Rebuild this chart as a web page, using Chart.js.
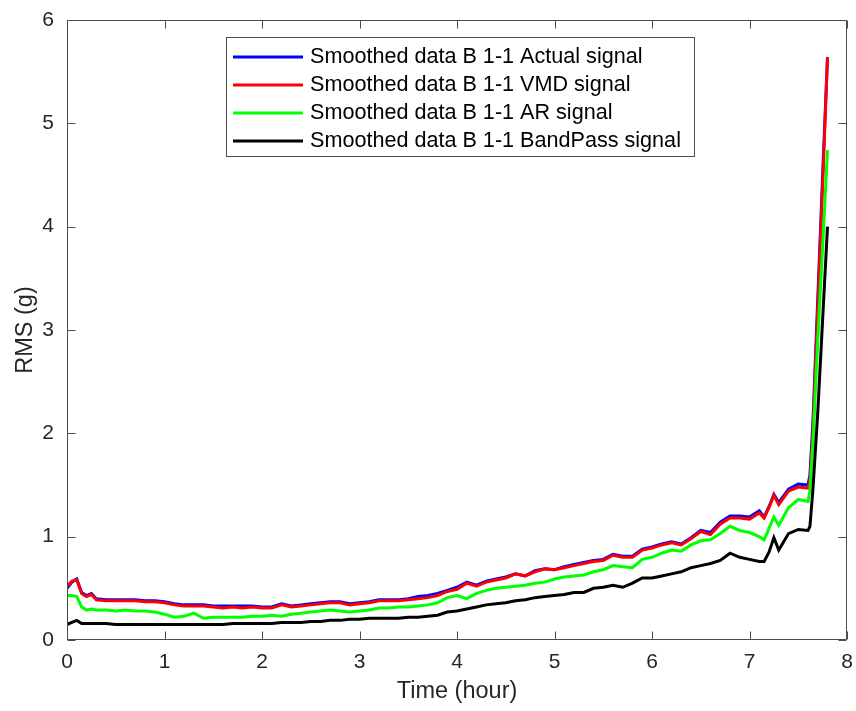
<!DOCTYPE html>
<html>
<head>
<meta charset="utf-8">
<script src="https://cdn.jsdelivr.net/npm/chart.js@4.4.1/dist/chart.umd.min.js"></script>
<style>
html,body{margin:0;padding:0;background:#ffffff;}
#wrap{width:856px;height:711px;}
</style>
</head>
<body>
<div id="wrap"><canvas id="c" width="856" height="711"></canvas></div>
<script>
// ---- data ----
const timeHours = [
  0,0.05,0.1,0.15,0.2,0.25,0.3,
  0.4,0.5,0.6,0.7,0.8,0.9,1.0,
  1.1,1.2,1.3,1.4,1.5,1.6,1.7,1.8,1.9,2.0,
  2.1,2.2,2.3,2.4,2.5,2.6,2.7,2.8,2.9,3.0,
  3.1,3.2,3.3,3.4,3.5,3.6,3.7,3.8,3.9,4.0,
  4.1,4.2,4.3,4.4,4.5,4.6,4.7,4.8,4.9,5.0,
  5.1,5.2,5.3,5.4,5.5,5.6,5.7,5.8,5.9,6.0,
  6.1,6.2,6.3,6.4,6.5,6.6,6.7,6.8,6.9,7.0,7.1,
  7.15,7.2,7.25,7.3,7.4,7.5,7.6,
  7.62,7.65,7.7,7.75,7.8
];
const actualSignal = [
  0.50,0.56,0.59,0.46,0.43,0.45,0.40,
  0.39,0.39,0.39,0.39,0.38,0.38,0.37,
  0.35,0.34,0.34,0.34,0.33,0.33,0.33,0.33,0.33,0.32,
  0.32,0.35,0.33,0.34,0.35,0.36,0.37,0.37,0.35,0.36,
  0.37,0.39,0.39,0.39,0.40,0.42,0.43,0.45,0.48,0.51,
  0.56,0.53,0.57,0.59,0.61,0.64,0.62,0.67,0.69,0.68,
  0.71,0.73,0.75,0.77,0.78,0.83,0.81,0.81,0.88,0.90,
  0.93,0.95,0.93,0.99,1.06,1.04,1.14,1.20,1.20,1.19,1.25,
  1.19,1.29,1.41,1.33,1.46,1.51,1.50,
  1.60,2.10,3.30,4.50,5.64
];
const vmdSignal = [
  0.52,0.57,0.58,0.45,0.42,0.44,0.39,
  0.38,0.38,0.38,0.38,0.37,0.37,0.36,
  0.34,0.33,0.33,0.33,0.32,0.31,0.32,0.31,0.32,0.31,
  0.31,0.34,0.32,0.33,0.34,0.35,0.36,0.36,0.34,0.35,
  0.36,0.38,0.38,0.38,0.39,0.40,0.41,0.43,0.47,0.49,
  0.55,0.52,0.56,0.58,0.60,0.64,0.62,0.66,0.69,0.68,
  0.70,0.72,0.74,0.76,0.77,0.82,0.80,0.80,0.87,0.89,
  0.92,0.94,0.92,0.98,1.05,1.02,1.12,1.18,1.18,1.17,1.23,
  1.18,1.28,1.40,1.31,1.44,1.48,1.47,
  1.55,2.00,3.20,4.40,5.64
];
const arSignal = [
  0.43,0.43,0.42,0.32,0.29,0.30,0.29,
  0.29,0.28,0.29,0.28,0.28,0.27,0.25,
  0.22,0.23,0.26,0.21,0.22,0.22,0.22,0.22,0.23,0.23,
  0.24,0.23,0.25,0.26,0.27,0.28,0.29,0.28,0.27,0.28,
  0.29,0.31,0.31,0.32,0.32,0.33,0.34,0.36,0.41,0.43,
  0.40,0.45,0.48,0.50,0.51,0.52,0.53,0.55,0.56,0.59,
  0.61,0.62,0.63,0.66,0.68,0.72,0.71,0.70,0.78,0.80,
  0.84,0.87,0.86,0.92,0.96,0.97,1.03,1.10,1.06,1.04,1.00,
  0.97,1.08,1.19,1.11,1.28,1.36,1.34,
  1.45,1.90,2.90,3.80,4.74
];
const bandPassSignal = [
  0.15,0.17,0.19,0.16,0.16,0.16,0.16,
  0.16,0.15,0.15,0.15,0.15,0.15,0.15,
  0.15,0.15,0.15,0.15,0.15,0.15,0.16,0.16,0.16,0.16,
  0.16,0.17,0.17,0.17,0.18,0.18,0.19,0.19,0.20,0.20,
  0.21,0.21,0.21,0.21,0.22,0.22,0.23,0.24,0.27,0.28,
  0.30,0.32,0.34,0.35,0.36,0.38,0.39,0.41,0.42,0.43,
  0.44,0.46,0.46,0.50,0.51,0.53,0.51,0.55,0.60,0.60,
  0.62,0.64,0.66,0.70,0.72,0.74,0.77,0.84,0.80,0.78,0.76,
  0.76,0.85,0.99,0.87,1.03,1.07,1.06,
  1.10,1.45,2.20,3.10,4.00
];
const seriesLabels = [
  'Smoothed data B 1-1 Actual signal',
  'Smoothed data B 1-1 VMD signal',
  'Smoothed data B 1-1 AR signal',
  'Smoothed data B 1-1 BandPass signal'
];
const xTickValues = [0,1,2,3,4,5,6,7,8];
const yTickValues = [0,1,2,3,4,5,6];

// ---- styling ----
const FONT = "'Liberation Sans', Arial, Helvetica, sans-serif";
const TEXT = '#262626';
const AXIS = '#4d4d4d';
const colors = ['#0000ff', '#ff0000', '#00ff00', '#000000'];
const seriesData = [actualSignal, vmdSignal, arSignal, bandPassSignal];

const datasets = seriesData.map((vals, k) => ({
  label: seriesLabels[k],
  data: timeHours.map((t, i) => ({x: t, y: vals[i]})),
  borderColor: colors[k],
  backgroundColor: colors[k],
  borderWidth: 3,
  pointRadius: 0,
  tension: 0,
  fill: false,
  order: 4 - k
}));

const boxAndTicks = {
  id: 'boxAndTicks',
  afterDatasetsDraw(chart) {
    const {ctx, chartArea: a, scales: {x, y}} = chart;
    ctx.save();
    ctx.strokeStyle = AXIS;
    ctx.lineWidth = 1;
    const L = Math.round(a.left) + 0.5, R = Math.round(a.right) - 0.5;
    const T = Math.round(a.top) + 0.5, B = Math.round(a.bottom) - 0.5;
    ctx.beginPath();
    ctx.rect(L, T, R - L, B - T);
    const tl = 8;
    xTickValues.forEach(v => {
      const px = Math.round(x.getPixelForValue(v)) + 0.5;
      ctx.moveTo(px, B); ctx.lineTo(px, B - tl);
      ctx.moveTo(px, T); ctx.lineTo(px, T + tl);
    });
    yTickValues.forEach(v => {
      const py = Math.round(y.getPixelForValue(v)) + 0.5;
      ctx.moveTo(L, py); ctx.lineTo(L + tl, py);
      ctx.moveTo(R, py); ctx.lineTo(R - tl, py);
    });
    ctx.stroke();
    ctx.restore();
  }
};

const insideLegend = {
  id: 'insideLegend',
  afterDraw(chart) {
    const {ctx} = chart;
    const bx = 226.5, by = 37.5, bw = 468, bh = 119;
    ctx.save();
    ctx.fillStyle = '#ffffff';
    ctx.fillRect(bx, by, bw, bh);
    ctx.strokeStyle = AXIS;
    ctx.lineWidth = 1;
    ctx.strokeRect(bx, by, bw, bh);
    ctx.font = '21.6px ' + FONT;
    ctx.textBaseline = 'middle';
    ctx.textAlign = 'left';
    chart.data.datasets.forEach((ds, i) => {
      const cy = 57 + i * 28;
      ctx.strokeStyle = ds.borderColor;
      ctx.lineWidth = 3;
      ctx.beginPath();
      ctx.moveTo(233, cy); ctx.lineTo(303, cy);
      ctx.stroke();
      ctx.fillStyle = '#000000';
      ctx.fillText(ds.label, 310, cy);
    });
    ctx.restore();
  }
};

new Chart(document.getElementById('c'), {
  type: 'line',
  data: {datasets},
  options: {
    responsive: false,
    animation: false,
    devicePixelRatio: 1,
    layout: {padding: {top: 20, right: 9, left: 0, bottom: 0}},
    plugins: {legend: {display: false}, tooltip: {enabled: false}},
    scales: {
      x: {
        type: 'linear', min: 0, max: 8,
        afterBuildTicks: s => { s.ticks = xTickValues.map(v => ({value: v})); },
        ticks: {font: {family: FONT, size: 21}, color: TEXT, padding: 10, maxRotation: 0},
        grid: {display: false, drawTicks: false},
        border: {display: false},
        title: {display: true, text: 'Time (hour)', color: TEXT,
                font: {family: FONT, size: 23.5}, padding: {top: 0, bottom: 5}},
        afterFit: s => { s.height = 71; s.paddingLeft = 0; s.paddingRight = 0; }
      },
      y: {
        type: 'linear', min: 0, max: 6,
        afterBuildTicks: s => { s.ticks = yTickValues.map(v => ({value: v})); },
        ticks: {font: {family: FONT, size: 21}, color: TEXT, padding: 13},
        grid: {display: false, drawTicks: false},
        border: {display: false},
        title: {display: true, text: 'RMS (g)', color: TEXT,
                font: {family: FONT, size: 23.5}, padding: {top: 11, bottom: 0}},
        afterFit: s => { s.width = 67; s.paddingTop = 0; s.paddingBottom = 0; }
      }
    }
  },
  plugins: [boxAndTicks, insideLegend]
});
</script>
</body>
</html>
